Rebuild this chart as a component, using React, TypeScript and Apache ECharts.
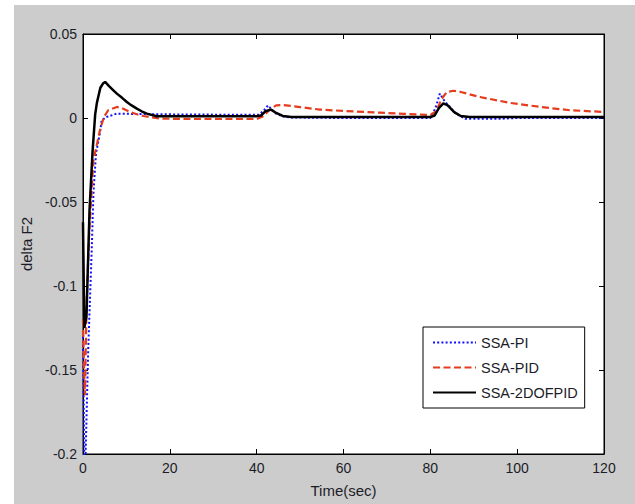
import React, { useEffect, useRef } from "react";
import * as echarts from "echarts";

// ---- Data ----
const seriesNames = ["SSA-PI", "SSA-PID", "SSA-2DOFPID"];

const xTicks = [0, 20, 40, 60, 80, 100, 120];
const yTicks = [-0.2, -0.15, -0.1, -0.05, 0, 0.05];

const piTime = [0, 0.3, 0.45, 0.6, 1.2, 2.0, 2.4, 3.0, 3.9, 4.3, 5.4, 7.8, 12, 18, 30, 40.5, 41.5, 42.6, 43.5, 44.5, 46, 48, 60, 80, 81.2, 82.2, 83.3, 84.5, 85.7, 86.9, 88, 92, 96.5, 100, 120];
const piValue = [-0.13, -0.2, -0.215, -0.2, -0.138, -0.079, -0.045, -0.021, -0.009, -0.0014, 0.0006, 0.0026, 0.0024, 0.0022, 0.002, 0.002, 0.004, 0.0075, 0.005, 0.0025, 0.001, 0.0003, 0, 0, 0.006, 0.0145, 0.01, 0.0066, 0.003, 0.0012, -0.0004, -0.0005, -0.0004, 0, 0];

const pidTime = [0, 0.25, 0.45, 0.85, 1.4, 2.4, 3.1, 3.9, 4.8, 5.8, 7.8, 9.3, 10.8, 12.4, 13.9, 17.7, 25, 40, 41.5, 43, 44.5, 46, 50, 54.6, 60, 68.4, 74, 80, 81.4, 82.5, 83.8, 85.3, 87, 91.4, 98.3, 105.3, 112.2, 120];
const pidValue = [-0.12, -0.15, -0.165, -0.108, -0.07, -0.025, -0.017, -0.0073, 0.0005, 0.0046, 0.0066, 0.0055, 0.0036, 0.0022, 0.0012, -0.0004, -0.0006, -0.0006, 0.001, 0.005, 0.0075, 0.0078, 0.0065, 0.005, 0.0042, 0.0032, 0.0025, 0.0018, 0.004, 0.011, 0.0155, 0.0162, 0.0155, 0.0125, 0.009, 0.0066, 0.0046, 0.0036];

const dofTime = [0, 0.3, 0.8, 1.5, 2.2, 2.8, 3.2, 3.6, 4.0, 4.6, 5.1, 6, 7, 7.8, 9, 10.1, 11.2, 12.4, 13.5, 14.7, 17, 40, 41, 42, 43.3, 44.5, 46, 48, 80, 81, 82, 83, 84, 85.5, 87, 89, 120];
const dofValue = [-0.062, -0.125, -0.118, -0.055, -0.02, 0.002, 0.009, 0.0135, 0.018, 0.0205, 0.0215, 0.019, 0.0165, 0.0145, 0.012, 0.0095, 0.0075, 0.0056, 0.004, 0.0026, 0.001, 0.001, 0.0015, 0.004, 0.005, 0.003, 0.0012, 0.0006, 0.0006, 0.0015, 0.006, 0.0087, 0.0075, 0.0035, 0.0012, 0.0006, 0.0006];

const zip = (t: number[], v: number[]) => t.map((x, i) => [x, v[i]]);

export default function App() {
  const ref = useRef<HTMLDivElement>(null);

  useEffect(() => {
    if (!ref.current) return;
    const fontFamily = "'Liberation Sans', Arial, sans-serif";
    const textColor = "#1c1c28";

    const chart = echarts.init(ref.current, undefined, { renderer: "svg" });
    const grid = { left: 83, top: 34, width: 521, height: 420 };
    const tickFmt = (v: number) => String(Number(v.toFixed(2)));

    const baseX = {
      type: "value" as const,
      min: xTicks[0],
      max: xTicks[xTicks.length - 1],
      interval: xTicks[1] - xTicks[0],
      splitLine: { show: false },
      axisLine: { show: true, onZero: false, lineStyle: { color: "#000", width: 1 } },
      axisTick: { show: true, inside: true, length: 5, lineStyle: { color: "#000", width: 1 } },
    };
    const baseY = {
      type: "value" as const,
      min: yTicks[0],
      max: yTicks[yTicks.length - 1],
      interval: 0.05,
      splitLine: { show: false },
      axisLine: { show: true, onZero: false, lineStyle: { color: "#000", width: 1 } },
      axisTick: { show: true, inside: true, length: 5, lineStyle: { color: "#000", width: 1 } },
    };

    chart.setOption({
      animation: false,
      textStyle: { fontFamily },
      grid: { ...grid, show: true, backgroundColor: "#ffffff", borderColor: "#000", borderWidth: 1 },
      xAxis: [
        {
          ...baseX,
          position: "bottom",
          name: "Time(sec)",
          nameLocation: "middle",
          nameGap: 29,
          nameTextStyle: { fontSize: 15, color: textColor, fontFamily },
          axisLabel: { margin: 7, fontSize: 14, color: textColor, fontFamily, formatter: tickFmt },
        },
        { ...baseX, position: "top", axisLabel: { show: false } },
      ],
      yAxis: [
        {
          ...baseY,
          position: "left",
          name: "delta F2",
          nameLocation: "middle",
          nameGap: 47,
          nameRotate: 90,
          nameTextStyle: { fontSize: 15, color: textColor, fontFamily },
          axisLabel: { margin: 6, fontSize: 14, color: textColor, fontFamily, formatter: tickFmt },
        },
        { ...baseY, position: "right", axisLabel: { show: false } },
      ],
      legend: {
        data: seriesNames,
        orient: "vertical",
        left: 423,
        top: 327,
        itemWidth: 43,
        itemHeight: 14,
        itemGap: 10,
        padding: [8, 7, 8, 9],
        backgroundColor: "#ffffff",
        borderColor: "#000",
        borderWidth: 1,
        borderRadius: 0,
        itemStyle: { opacity: 0 },
        textStyle: { fontSize: 14.5, color: textColor, fontFamily },
      },
      series: [
        {
          name: seriesNames[0],
          type: "line",
          data: zip(piTime, piValue),
          symbol: "none",
          clip: true,
          lineStyle: { color: "#1010ff", width: 2, type: [2, 2.2] },
          itemStyle: { color: "#1010ff" },
          z: 2,
        },
        {
          name: seriesNames[1],
          type: "line",
          data: zip(pidTime, pidValue),
          symbol: "none",
          clip: true,
          lineStyle: { color: "#e63c1e", width: 2.2, type: [7, 3.5] },
          itemStyle: { color: "#e63c1e" },
          z: 3,
        },
        {
          name: seriesNames[2],
          type: "line",
          data: zip(dofTime, dofValue),
          symbol: "none",
          clip: true,
          lineStyle: { color: "#000000", width: 2.5, type: "solid" },
          itemStyle: { color: "#000000" },
          z: 4,
        },
      ],
    });
    return () => chart.dispose();
  }, []);

  return (
    <div style={{ position: "absolute", left: 0, top: 0, width: 635, height: 504, background: "#ffffff" }}>
      <div style={{ position: "absolute", left: 14, top: 5, width: 621, height: 499, background: "#cccccc" }} />
      <div ref={ref} style={{ position: "absolute", left: 0, top: 0, width: 635, height: 504 }} />
    </div>
  );
}
